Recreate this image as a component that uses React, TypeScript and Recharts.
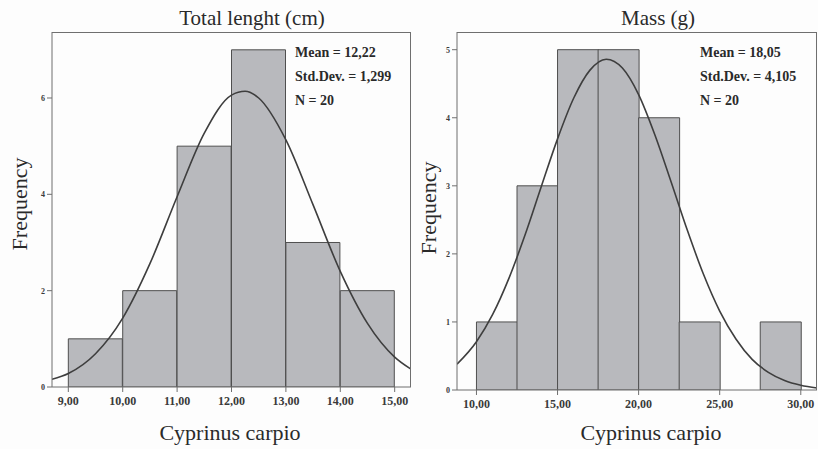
import React from "react";
import {
  ComposedChart,
  Bar,
  Line,
  XAxis,
  YAxis,
} from "recharts";

// Total length histogram (bin width 1 cm)
const lengthBinMids = [9.5, 10.5, 11.5, 12.5, 13.5, 14.5];
const lengthCounts = [1, 2, 5, 7, 3, 2];
const lengthTicks = [9, 10, 11, 12, 13, 14, 15];
const lengthCurveX = [8.7, 9, 9.5, 10, 10.5, 11, 11.5, 12, 12.25, 12.5, 13, 13.5, 14, 14.5, 15, 15.3];
const lengthCurveY = [0.16, 0.28, 0.69, 1.43, 2.56, 3.95, 5.27, 6.06, 6.14, 6.0, 5.13, 3.78, 2.4, 1.32, 0.62, 0.37];
const lengthStats = ["Mean = 12,22", "Std.Dev. = 1,299", "N = 20"];

// Mass histogram (bin width 2.5 g)
const massBinMids = [11.25, 13.75, 16.25, 18.75, 21.25, 23.75, 26.25, 28.75];
const massCounts = [1, 3, 5, 5, 4, 1, 0, 1];
const massTicks = [10, 15, 20, 25, 30];
const massCurveX = [8.8, 10, 11, 12, 13, 14, 15, 16, 17, 18, 19, 20, 21, 22, 23, 24, 25, 26, 27, 28, 29, 30, 31];
const massCurveY = [0.38, 0.71, 1.11, 1.64, 2.28, 2.99, 3.69, 4.29, 4.7, 4.86, 4.73, 4.34, 3.75, 3.06, 2.35, 1.7, 1.16, 0.75, 0.45, 0.26, 0.14, 0.07, 0.03];
const massStats = ["Mean = 18,05", "Std.Dev. = 4,105", "N = 20"];

const FONT = "'Liberation Serif', 'DejaVu Serif', serif";
const FRAME = "#6f6f6f";
const BAR_FILL = "#b8b9bd";
const BAR_STROKE = "#4f4f4f";
const CURVE = "#3e3e3e";
const HEIGHT = 449;
const Y_AXIS_W = 20;
const X_AXIS_H = 32;

const comma = (v: number) => v.toFixed(2).replace(".", ",");

type PanelProps = {
  left: number;
  width: number;
  margin: { top: number; right: number; bottom: number; left: number };
  mids: number[];
  counts: number[];
  ticks: number[];
  xDomain: [number, number];
  yDomain: [number, number];
  yTicks: number[];
  curveX: number[];
  curveY: number[];
};

function Panel(p: PanelProps) {
  const bins = p.mids.map((mid, i) => ({ mid, count: p.counts[i] }));
  const curve = p.curveX.map((x, i) => ({ x, y: p.curveY[i] }));
  // top/right border of the plot box, same geometry as the chart margins
  const boxLeft = p.margin.left + Y_AXIS_W;
  const boxRight = p.width - p.margin.right;
  const boxBottom = HEIGHT - p.margin.bottom - X_AXIS_H;
  return (
    <div style={{ position: "absolute", left: p.left, top: 0 }}>
      <ComposedChart
        width={p.width}
        height={HEIGHT}
        data={bins}
        margin={p.margin}
        barCategoryGap={0}
        barGap={0}
      >
        <XAxis
          xAxisId="bins"
          type="number"
          dataKey="mid"
          domain={p.xDomain}
          allowDataOverflow
          ticks={p.ticks}
          tickFormatter={comma}
          height={X_AXIS_H}
          stroke={FRAME}
          tickSize={5}
          tickMargin={4}
          tick={{ fontSize: 12, fontWeight: "bold", fill: "#3a3a3a", fontFamily: FONT }}
        />
        <XAxis
          xAxisId="curve"
          type="number"
          dataKey="x"
          domain={p.xDomain}
          allowDataOverflow
          hide
        />
        <YAxis
          yAxisId="freq"
          domain={p.yDomain}
          allowDataOverflow
          ticks={p.yTicks}
          width={Y_AXIS_W}
          stroke={FRAME}
          tickSize={5}
          tickMargin={2}
          tick={{ fontSize: 8, fontWeight: "bold", fill: "#3a3a3a", fontFamily: FONT }}
        />
        <Bar
          xAxisId="bins"
          yAxisId="freq"
          dataKey="count"
          fill={BAR_FILL}
          stroke={BAR_STROKE}
          strokeWidth={1}
          isAnimationActive={false}
        />
        <Line
          xAxisId="curve"
          yAxisId="freq"
          data={curve}
          dataKey="y"
          type="monotone"
          stroke={CURVE}
          strokeWidth={1.6}
          dot={false}
          activeDot={false}
          isAnimationActive={false}
        />
      </ComposedChart>
      <div
        style={{
          position: "absolute",
          left: boxLeft,
          top: p.margin.top,
          width: boxRight - boxLeft,
          height: boxBottom - p.margin.top,
          boxSizing: "border-box",
          borderTop: `1px solid ${FRAME}`,
          borderRight: `1px solid ${FRAME}`,
          pointerEvents: "none",
        }}
      />
    </div>
  );
}

const textBase: React.CSSProperties = {
  position: "absolute",
  fontFamily: FONT,
  color: "#2a2a2a",
  whiteSpace: "nowrap",
};

function Centered({ x, y, size, children, rotate }: any) {
  return (
    <div
      style={{
        ...textBase,
        left: x,
        top: y,
        fontSize: size,
        transform: `translate(-50%, -50%)${rotate ? " rotate(-90deg)" : ""}`,
      }}
    >
      {children}
    </div>
  );
}

function Stats({ x, lines }: { x: number; lines: string[] }) {
  return (
    <div style={{ ...textBase, left: x, top: 41, fontSize: 14, fontWeight: "bold", lineHeight: "24px" }}>
      {lines.map((l) => (
        <div key={l}>{l}</div>
      ))}
    </div>
  );
}

export default function App() {
  return (
    <div
      style={{
        position: "absolute",
        left: 0,
        top: 0,
        width: 818,
        height: HEIGHT,
        background: "#fdfdfd",
        overflow: "hidden",
      }}
    >
      <Panel
        left={0}
        width={420}
        margin={{ top: 32, right: 9, bottom: 30, left: 32 }}
        mids={lengthBinMids}
        counts={lengthCounts}
        ticks={lengthTicks}
        xDomain={[8.7, 15.3]}
        yDomain={[0, 7.37]}
        yTicks={[0, 2, 4, 6]}
        curveX={lengthCurveX}
        curveY={lengthCurveY}
      />
      <Panel
        left={420}
        width={398}
        margin={{ top: 32, right: 1, bottom: 27, left: 17 }}
        mids={massBinMids}
        counts={massCounts}
        ticks={massTicks}
        xDomain={[8.8, 31]}
        yDomain={[0, 5.26]}
        yTicks={[0, 1, 2, 3, 4, 5]}
        curveX={massCurveX}
        curveY={massCurveY}
      />
      <Centered x={252} y={18} size={21}>Total lenght (cm)</Centered>
      <Centered x={658} y={18} size={21}>Mass (g)</Centered>
      <Centered x={230} y={433} size={22}>Cyprinus carpio</Centered>
      <Centered x={651} y={433} size={22}>Cyprinus carpio</Centered>
      <Centered x={20} y={204} size={22} rotate>Frequency</Centered>
      <Centered x={429} y={208} size={22} rotate>Frequency</Centered>
      <Stats x={295} lines={lengthStats} />
      <Stats x={700} lines={massStats} />
    </div>
  );
}
